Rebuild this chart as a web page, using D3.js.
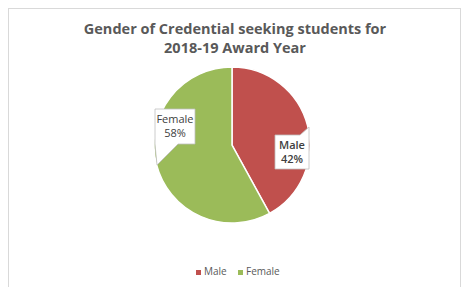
<!DOCTYPE html>
<html>
<head>
<meta charset="utf-8">
<script src="https://cdn.jsdelivr.net/npm/d3@7"></script>
<style>
  body { margin: 0; background: #fff; }
  svg { display: block; font-family: "Open Sans", "Liberation Sans", sans-serif; }
</style>
</head>
<body>
<svg></svg>
<script>
const width = 464;
const height = 287;

const categories = ["Male", "Female"];
const values = [42, 58];
const colors = ["#C0504D", "#9BBB59"];
const titleLines = ["Gender of Credential seeking students for", "2018-19 Award Year"];

const svg = d3.select("svg")
  .attr("width", width)
  .attr("height", height);

// chart frame
svg.append("rect")
  .attr("x", 8.5)
  .attr("y", 8.5)
  .attr("width", 452)
  .attr("height", 300)
  .attr("fill", "none")
  .attr("stroke", "#D9D9D9");

svg.append("text")
  .attr("text-anchor", "middle")
  .attr("font-size", 14.5)
  .attr("font-weight", "bold")
  .attr("fill", "#595959")
  .selectAll("tspan")
  .data(titleLines)
  .join("tspan")
  .attr("x", 235)
  .attr("y", (d, i) => 34 + i * 19)
  .text(d => d);

const cx = 232, cy = 145, r = 78;

const pie = d3.pie().sort(null).value(d => d.value);
const arc = d3.arc().innerRadius(0).outerRadius(r);

const data = categories.map((c, i) => ({ name: c, value: values[i], color: colors[i] }));
const arcs = pie(data);

const g = svg.append("g").attr("transform", `translate(${cx},${cy})`);

g.selectAll("path")
  .data(arcs)
  .join("path")
  .attr("d", arc)
  .attr("fill", d => d.data.color)
  .attr("stroke", "#fff")
  .attr("stroke-width", 1.5);

// data label callouts (box + pointer toward the slice edge)
const labelBoxes = [
  { x: 275, y: 135, w: 34, h: 34, tip: [309, 127], base: [300, 309], side: "top", bold: true },
  { x: 155, y: 109, w: 40, h: 35, tip: [157, 165], base: [156, 178], side: "bottom", bold: false }
];

arcs.forEach((a, i) => {
  const b = labelBoxes[i];
  const pct = Math.round(a.data.value / d3.sum(values) * 100) + "%";
  let p;
  if (b.side === "top") {
    p = [[b.x, b.y], [b.base[0], b.y], b.tip, [b.x + b.w, b.y], [b.x + b.w, b.y + b.h], [b.x, b.y + b.h]];
  } else {
    p = [[b.x, b.y], [b.x + b.w, b.y], [b.x + b.w, b.y + b.h], [b.base[1], b.y + b.h], b.tip, [b.x, b.y + b.h]];
  }
  svg.append("path")
    .attr("d", d3.line()(p) + "Z")
    .attr("fill", "#fff")
    .attr("stroke", "#BFBFBF")
    .attr("stroke-width", 0.8);

  const t = svg.append("text")
    .attr("text-anchor", "middle")
    .attr("font-size", 11)
    .attr("font-weight", b.bold ? "600" : "normal")
    .attr("fill", "#404040");
  [a.data.name, pct].forEach((s, j) => {
    t.append("tspan")
      .attr("x", b.x + b.w / 2)
      .attr("y", b.y + 14 + j * 14)
      .text(s);
  });
});

// legend
const legend = svg.append("g").attr("transform", "translate(196, 275)");
const legendX = [0, 42];
const item = legend.selectAll("g")
  .data(data)
  .join("g")
  .attr("transform", (d, i) => `translate(${legendX[i]},0)`);

item.append("rect")
  .attr("x", 0)
  .attr("y", -5)
  .attr("width", 5)
  .attr("height", 5)
  .attr("fill", d => d.color);

item.append("text")
  .attr("x", 8)
  .attr("y", 0)
  .attr("font-size", 10)
  .attr("fill", "#595959")
  .text(d => d.name);
</script>
</body>
</html>
